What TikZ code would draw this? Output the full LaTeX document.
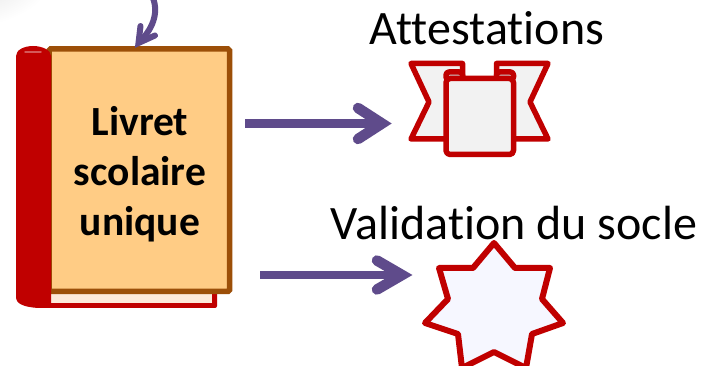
\documentclass[tikz,border=0pt]{standalone}
\usepackage{fontspec}
\setmainfont[Ligatures=CommonOff]{Carlito}
\usetikzlibrary{calc,shadings}
\definecolor{crimson}{HTML}{C00000}
\definecolor{cover}{HTML}{FFCC85}
\definecolor{coveredge}{HTML}{9C4F08}
\definecolor{flow}{HTML}{5F4B8B}
\definecolor{paper}{HTML}{FDE9D9}
\definecolor{ribbon}{HTML}{F2F2F2}
\definecolor{starfill}{HTML}{F6F7FF}
\tikzset{
  redline/.style={draw=crimson,line width=5.5pt,line join=round},
  flowline/.style={draw=flow,line width=8.5pt},
  flowhead/.style={draw=flow,line width=10.5pt,line cap=round,line join=miter,miter limit=10},
  lbl/.style={font=\fontsize{48pt}{48pt}\selectfont,text=black,inner sep=0pt,anchor=base},
  booklbl/.style={font=\fontsize{41.5pt}{50pt}\selectfont\bfseries,align=center,text=black,inner sep=0pt}
}
\begin{document}
\begin{tikzpicture}[x=1pt,y=-1pt]
\useasboundingbox (0,0) rectangle (702,366);
\clip (0,0) rectangle (702,366);
\fill[white] (0,0) rectangle (702,366);
% faint corner shadow
\shade[inner color=black!14,outer color=white] (-40,-30) ellipse [x radius=95,y radius=58];
% book back and pages
\fill[crimson,rounded corners=2pt] (40,280) rectangle (217,308);
\fill[paper] (51,285) rectangle (212,303);
% cover
\node[draw=coveredge,fill=cover,line width=5.5pt,rounded corners=1.5pt,outer sep=0pt,minimum width=180.5pt,minimum height=242.5pt,inner sep=0pt,
  anchor=north west] (book) at (49,49) {};
% spine
\fill[crimson] (16,56) -- (16,297) .. controls (16,304) and (24,307) .. (38,308) -- (51,308) -- (51,56)
  .. controls (51,50) and (42,46) .. (33,46) .. controls (24,46) and (16,50) .. (16,56) -- cycle;
\draw[white,opacity=.35,line width=1.5pt,line cap=round] (25,52) -- (41,52);
\node[booklbl] (title) at (140,174) {Livret\\scolaire\\unique};
% ribbons
\path[fill=ribbon,redline] (411,63.5) -- (462.5,63.5) -- (462.5,78) -- (462.5,139) -- (411,139) -- (429,102) -- cycle;
\path[fill=ribbon,redline] (548,63.5) -- (496.5,63.5) -- (496.5,78) -- (496.5,139) -- (548,139) -- (530,102) -- cycle;
% front sheet tabs
\path[fill=black!20,redline,rounded corners=3pt] (446,80) -- (446,72) -- (462.5,72) -- (462.5,80) -- cycle;
\path[fill=black!20,redline,rounded corners=3pt] (513.5,80) -- (513.5,72) -- (496.5,72) -- (496.5,80) -- cycle;
% front sheet
\node[redline,fill=ribbon,rounded corners=4pt,outer sep=0pt,minimum width=67.5pt,minimum height=76pt,inner sep=0pt,anchor=north west] (sheet) at (446,78.5) {};
% star
\path[fill=starfill,draw=crimson,line width=6pt,line join=round] (494,243) -- (515,268) -- (550,268) -- (542,299) -- (563,323) -- (532,334) -- (526,368)
 -- (494,352) -- (462,368) -- (458,334) -- (425,323) -- (448,299) -- (439,268) -- (473,268) -- cycle;
% labels
\node[lbl] (att) at (487,44.5) {Attestations};
\node[lbl] (val) at (514,239.5) {Validation du socle};
% connectors
\coordinate (a1s) at (245,123.5);
\coordinate (a1e) at (382,123.5);
\coordinate (a2s) at (260,275);
\coordinate (a2e) at (402,275);
\coordinate (a3s) at (153,-2);
\coordinate (a3e) at (138.5,43);
\draw[flowline] (a1s) -- (a1e);
\draw[flowhead] ($(a1e)+(-24,-15.5)$) -- (a1e) -- ($(a1e)+(-24,15.5)$);
\draw[flowline] (a2s) -- (a2e);
\draw[flowhead] ($(a2e)+(-25,-14.5)$) -- (a2e) -- ($(a2e)+(-25,14.5)$);
\draw[draw=flow,line width=6pt] (a3s) .. controls (159,14) and (152,30) .. (a3e);
\draw[draw=flow,line width=6pt,line cap=round,line join=miter,miter limit=10] ($(a3e)+(2,-17)$) -- (a3e) -- ($(a3e)+(16.5,-7.5)$);
\end{tikzpicture}
\end{document}
